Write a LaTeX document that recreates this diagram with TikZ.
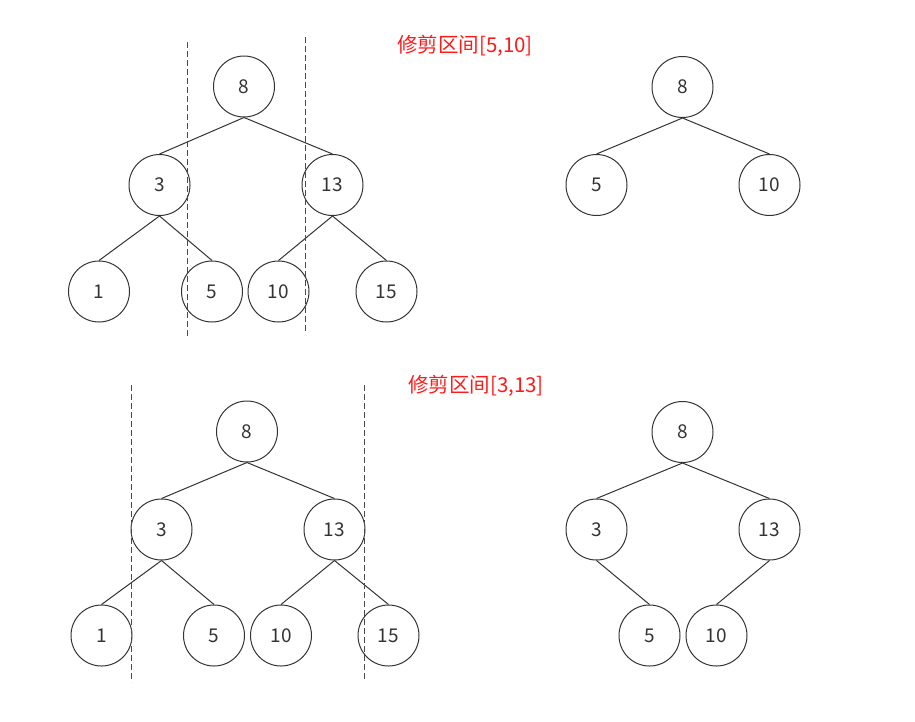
\documentclass[tikz,border=0pt]{standalone}
\usepackage{fontspec}
\newfontfamily\cjk{Noto Sans CJK SC}
\definecolor{ink}{HTML}{333333}
\definecolor{dashc}{HTML}{4A4A4A}
\definecolor{lab}{HTML}{FF1A1A}
\begin{document}
\begin{tikzpicture}[x=1pt,y=-1pt,
  nd/.style={circle,draw=ink,line width=1pt,minimum size=61pt,inner sep=0pt,text=ink,font=\cjk\fontsize{19}{21}\selectfont},
  ed/.style={draw=ink,line width=1pt},
  cut/.style={draw=dashc,line width=0.9pt,dash pattern=on 6pt off 3pt},
  lbl/.style={text=lab,font=\cjk\fontsize{20.5}{22}\selectfont,inner sep=0pt}]
\useasboundingbox (0,0) rectangle (915,721);
% ---------- top-left tree ----------
\node[nd] (a8) at (244,86.5) {8};
\node[nd] (a3) at (159.5,185) {3};
\node[nd] (a13) at (332.5,185) {13};
\node[nd] (a1) at (99,291.5) {1};
\node[nd] (a5) at (212,291.5) {5};
\node[nd] (a10) at (278.5,291.5) {10};
\node[nd] (a15) at (386.5,291.5) {15};
\draw[ed] (a8.south) -- (a3.north);
\draw[ed] (a8.south) -- (a13.north);
\draw[ed] (a3.south) -- (a1.north);
\draw[ed] (a3.south) -- (a5.north);
\draw[ed] (a13.south) -- (a10.north);
\draw[ed] (a13.south) -- (a15.north);
\coordinate (c1t) at (187,42);
\coordinate (c1b) at (187,337);
\coordinate (c2t) at (305,37);
\coordinate (c2b) at (305,333);
\draw[cut] (c1t) -- (c1b);
\draw[cut] (c2t) -- (c2b);
\node[lbl] (l1) at (465,46) {修剪区间[5,10]};
% ---------- top-right tree ----------
\node[nd] (b8) at (682.5,87) {8};
\node[nd] (b5) at (596.5,185) {5};
\node[nd] (b10) at (769.5,185) {10};
\draw[ed] (b8.south) -- (b5.north);
\draw[ed] (b8.south) -- (b10.north);
% ---------- bottom-left tree ----------
\node[nd] (c8) at (247,431.5) {8};
\node[nd] (c3) at (161.5,529.5) {3};
\node[nd] (c13) at (334.5,529.5) {13};
\node[nd] (c1) at (101.5,635.5) {1};
\node[nd] (c5) at (214,635.5) {5};
\node[nd] (c10) at (281,635.5) {10};
\node[nd] (c15) at (388.5,635.5) {15};
\draw[ed] (c8.south) -- (c3.north);
\draw[ed] (c8.south) -- (c13.north);
\draw[ed] (c3.south) -- (c1.north);
\draw[ed] (c3.south) -- (c5.north);
\draw[ed] (c13.south) -- (c10.north);
\draw[ed] (c13.south) -- (c15.north);
\coordinate (d1t) at (131,385);
\coordinate (d1b) at (131,682);
\coordinate (d2t) at (364,385);
\coordinate (d2b) at (364,681);
\draw[cut] (d1t) -- (d1b);
\draw[cut] (d2t) -- (d2b);
\node[lbl] (l2) at (476,386) {修剪区间[3,13]};
% ---------- bottom-right tree ----------
\node[nd] (e8) at (682.5,432) {8};
\node[nd] (e3) at (596.5,529.5) {3};
\node[nd] (e13) at (769.5,529.5) {13};
\node[nd] (e5) at (649.5,635.5) {5};
\node[nd] (e10) at (716.5,635.5) {10};
\draw[ed] (e8.south) -- (e3.north);
\draw[ed] (e8.south) -- (e13.north);
\draw[ed] (e3.south) -- (e5.north);
\draw[ed] (e13.south) -- (e10.north);
\end{tikzpicture}
\end{document}
